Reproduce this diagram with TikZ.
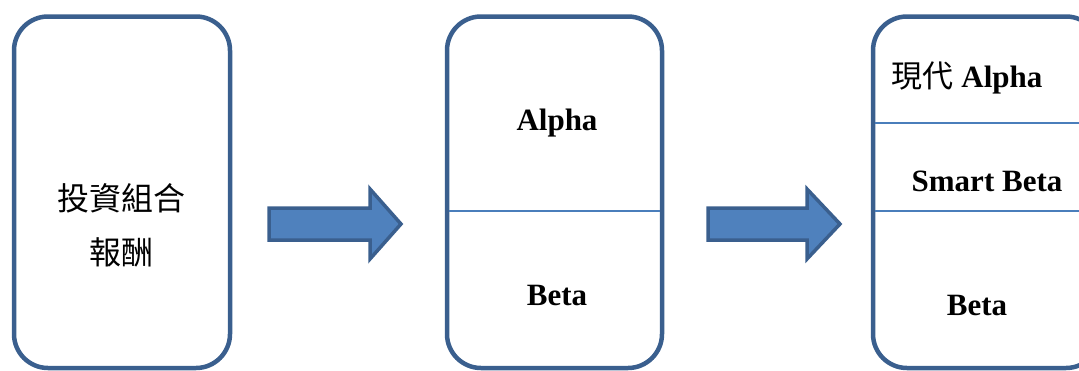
\documentclass[tikz,border=0pt]{standalone}
\usepackage{fontspec}
\setmainfont{Liberation Serif}
\newfontfamily\cjk{Noto Sans CJK TC}
\definecolor{frameblue}{HTML}{3A5F8E}
\definecolor{fillblue}{HTML}{4F81BD}
\definecolor{ruleblue}{HTML}{4A7EBB}
\begin{document}
\begin{tikzpicture}[x=1pt,y=-1pt,
  panel/.style={draw=frameblue, line width=4.5pt, rounded corners=34pt},
  divider/.style={draw=ruleblue, line width=1.4pt},
  blockarrow/.style={draw=frameblue, fill=fillblue, line width=3.5pt, line join=miter},
  lbl/.style={font=\fontsize{31}{36}\selectfont\bfseries, anchor=base, inner sep=0pt},
  cjklbl/.style={font=\fontsize{32}{54}\selectfont\cjk, align=center, inner sep=0pt}]
\useasboundingbox (0,0) rectangle (1079,370);
\clip (0,0) rectangle (1079,370);

% three panels
\draw[panel] (14,16.5) rectangle (230,368);
\draw[panel] (447,16.5) rectangle (662,368);
\draw[panel] (873,16.5) rectangle (1100,368);

% dividers inside the panels
\coordinate (d2l) at (449,211);
\coordinate (d2r) at (660,211);
\draw[divider] (d2l) -- (d2r);
\coordinate (d3al) at (875,123);
\coordinate (d3ar) at (1079,123);
\draw[divider] (d3al) -- (d3ar);
\coordinate (d3bl) at (875,211);
\coordinate (d3br) at (1079,211);
\draw[divider] (d3bl) -- (d3br);

% block arrows between the panels
\draw[blockarrow] (269,208) -- (370,208) -- (370,189) -- (401,224) -- (370,259) -- (370,240) -- (269,240) -- cycle;
\draw[blockarrow] (708,208) -- (807,208) -- (807,189) -- (840,224) -- (807,259) -- (807,240) -- (708,240) -- cycle;

% labels
\node[cjklbl] (ret) at (121,225) {投資組合\\報酬};
\node[lbl] (alpha) at (557,130) {Alpha};
\node[lbl] (beta) at (557,305) {Beta};
\node[lbl] (malpha) at (967,87) {{\cjk\mdseries 現代} Alpha};
\node[lbl] (sbeta) at (987,191) {Smart Beta};
\node[lbl] (beta3) at (977,315) {Beta};
\end{tikzpicture}
\end{document}
